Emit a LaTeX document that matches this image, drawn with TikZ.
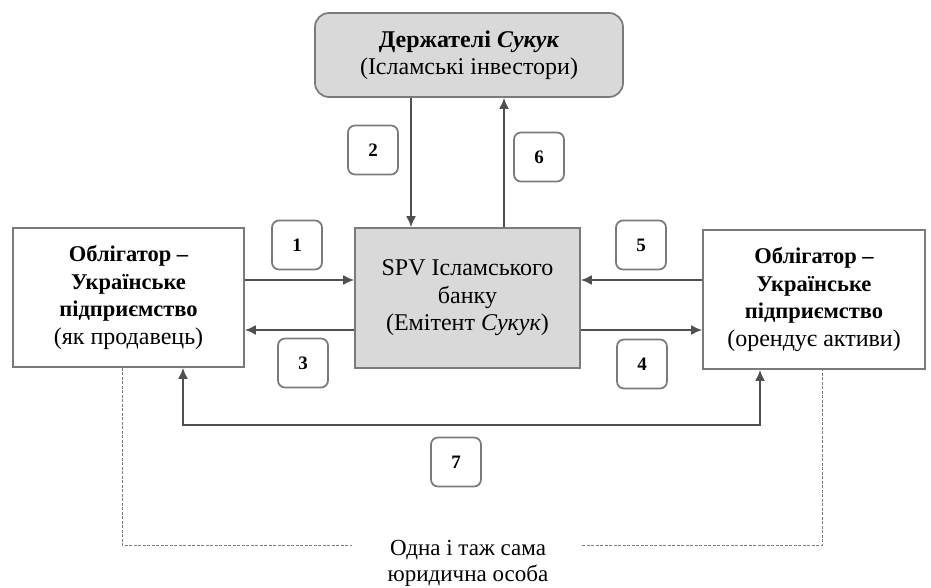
\documentclass[tikz,border=0pt]{standalone}
\usepackage{fontspec}
\setmainfont{Liberation Serif}
\usetikzlibrary{arrows.meta,calc}
\definecolor{boxgray}{HTML}{7A7A7A}
\definecolor{linegray}{HTML}{505050}
\definecolor{fillgray}{HTML}{D9D9D9}
\newcommand{\bl}[1]{{\fontsize{22.5}{27}\selectfont\bfseries #1}}
\begin{document}
\begin{tikzpicture}[x=1pt,y=-1pt,
  box/.style={draw=boxgray, line width=1.7pt, align=center, inner sep=0pt,
    font=\fontsize{24}{27.5}\selectfont},
  numbox/.style={draw=boxgray, line width=1.7pt, rounded corners=7pt, fill=white,
    minimum width=50pt, minimum height=49pt, inner sep=0pt,
    font=\fontsize{19}{20}\selectfont\bfseries},
  arr/.style={draw=linegray, line width=1.8pt, -{Latex[length=11pt,width=10pt]}},
  dualarr/.style={draw=linegray, line width=1.8pt, {Latex[length=11pt,width=10pt]}-{Latex[length=11pt,width=10pt]}},
  dots/.style={draw=boxgray, line width=1pt, dash pattern=on 3pt off 1.5pt}
]
\useasboundingbox (0,0) rectangle (931,588);
\fill[white] (0,0) rectangle (931,588);

% main boxes
\node[box, fill=fillgray, rounded corners=14pt, minimum width=308pt, minimum height=84pt] (top) at (469,55)
  {\textbf{Держателі \textit{Сукук}}\\(Ісламські інвестори)};
\node[box, fill=white, minimum width=231pt, minimum height=139pt] (left) at (128.5,297.5)
  {\bl{Облігатор –}\\\bl{Українське}\\\bl{підприємство}\\(як продавець)};
\node[box, fill=fillgray, minimum width=225pt, minimum height=140pt] (spv) at (467.5,298)
  {SPV Ісламського\\банку\\(Емітент \textit{Сукук})};
\node[box, fill=white, minimum width=222pt, minimum height=139pt] (right) at (814,299.5)
  {\bl{Облігатор –}\\\bl{Українське}\\\bl{підприємство}\\(орендує активи)};

% helper coordinates
\coordinate (x2) at (411,0);
\coordinate (x6) at (504,0);
\coordinate (y1) at (0,280);
\coordinate (y3) at (0,330);
\coordinate (xl7) at (183,0);
\coordinate (xr7) at (760,0);
\coordinate (y7) at (0,425);
\coordinate (xld) at (122,0);
\coordinate (xrd) at (822,0);
\coordinate (yd) at (0,545);

% arrows
\draw[arr] (x2 |- top.south) -- (x2 |- spv.north);
\draw[arr] (x6 |- spv.north) -- (x6 |- top.south);
\draw[arr] (left.east |- y1) -- (spv.west |- y1);
\draw[arr] (spv.west |- y3) -- (left.east |- y3);
\draw[arr] (right.west |- y1) -- (spv.east |- y1);
\draw[arr] (spv.east |- y3) -- (right.west |- y3);
\draw[dualarr] (xl7 |- left.south) -- (xl7 |- y7) -- (xr7 |- y7) -- (xr7 |- right.south);

% number labels
\node[numbox] (n2) at (373,150) {2};
\node[numbox] (n6) at (539,157) {6};
\node[numbox] (n1) at (297,245) {1};
\node[numbox] (n3) at (303,363) {3};
\node[numbox] (n5) at (641,245) {5};
\node[numbox] (n4) at (642,364) {4};
\node[numbox] (n7) at (456,462) {7};

% bottom note
\node[align=center, font=\fontsize{23}{26}\selectfont, inner sep=0pt] (note) at (468,563)
  {Одна і таж сама\\юридична особа};
\coordinate (dl) at (352,545);
\coordinate (dr) at (582,545);
\draw[dots] (xld |- left.south) -- (xld |- yd) -- (dl);
\draw[dots] (dr) -- (xrd |- yd) -- (xrd |- right.south);
\end{tikzpicture}
\end{document}
